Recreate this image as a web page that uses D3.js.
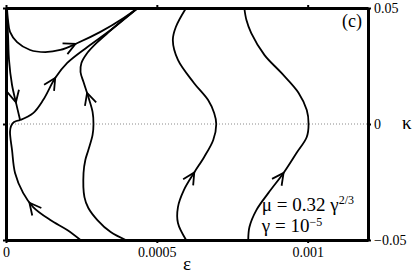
<!DOCTYPE html>
<html>
<head>
<meta charset="utf-8">
<script src="https://cdn.jsdelivr.net/npm/d3@7"></script>
</head>
<body style="margin:0; background:#fff">
<div id="chart"></div>
<script>
// tick values / labels
var xTicks = [0, 0.0005, 0.001],
    xTickLabels = ["0", "0.0005", "0.001"],
    yTicks = [-0.05, 0, 0.05],
    yTickLabels = ["\u22120.05", "0", "0.05"];

// trajectories, [epsilon, kappa], listed in the direction of the flow
var curveA = [[0.000803, -0.05], [0.000807, -0.0444], [0.000830, -0.0371], [0.000870, -0.0297],
    [0.000920, -0.0211], [0.000963, -0.0125], [0.000997, -0.0056], [0.001003, 0],
    [0.000997, 0.0060], [0.000970, 0.0134], [0.000913, 0.0220], [0.000857, 0.0297],
    [0.000813, 0.0392], [0.000797, 0.0448], [0.000790, 0.05]];
var curveB = [[0.000597, -0.05], [0.000570, -0.0427], [0.000570, -0.0358], [0.000590, -0.0284],
    [0.000623, -0.0211], [0.000657, -0.0142], [0.000687, -0.0069], [0.000697, 0],
    [0.000690, 0.0047], [0.000670, 0.0103], [0.000623, 0.0177], [0.000570, 0.0276],
    [0.000553, 0.0362], [0.000563, 0.0418], [0.000597, 0.05]];
var curveC = [[0.000397, -0.05], [0.000347, -0.0466], [0.000303, -0.0414], [0.000273, -0.0362],
    [0.000260, -0.0315], [0.000257, -0.0211], [0.000263, -0.0155], [0.000273, -0.0112],
    [0.000287, -0.0047], [0.000290, 0], [0.000287, 0.0052], [0.000273, 0.0116],
    [0.000257, 0.0181], [0.000247, 0.0224], [0.000250, 0.0263], [0.000267, 0.0302],
    [0.000297, 0.0345], [0.000337, 0.0392], [0.000383, 0.0444], [0.000437, 0.05]];
var curveD = [[0.0000467, 0.0017], [0.00009, 0.0047], [0.000123, 0.0103], [0.000163, 0.0198],
    [0.000203, 0.0263], [0.00027, 0.0332], [0.000347, 0.0405], [0.000437, 0.05]];
var curveE = [[0.000247, -0.05], [0.000203, -0.0457], [0.000147, -0.0414], [0.00009, -0.0358],
    [0.0000567, -0.0297], [0.00003, -0.0211], [0.00002, -0.0112], [0.0000133, -0.0034],
    [0.0000167, -0.0009], [0.0000267, 0.0009], [0.0000467, 0.0017]];
var curveF = [[0.0000017, 0.05], [0.0000067, 0.0384], [0.00001, 0.0276], [0.00002, 0.0168],
    [0.0000333, 0.0091], [0.0000467, 0.0017]];
var curveG = [[0.0000033, 0.05], [0.0000067, 0.0448], [0.0000133, 0.0397], [0.0000367, 0.0353],
    [0.00008, 0.0319], [0.00013, 0.031], [0.00018, 0.0319], [0.000237, 0.0349],
    [0.000313, 0.0397], [0.00039, 0.0457], [0.000437, 0.05]];

var curves = [curveA, curveB, curveC, curveD, curveE, curveF, curveG];

// arrow tips: which curve, and where on it
var arrowCurve = [0, 1, 2, 3, 4, 5, 6],
    arrowEps = [0.00092, 0.000623, 0.000272, 0.000163, 0.00008, 0.0000367, 0.00023],
    arrowKappa = [-0.0211, -0.0207, 0.0134, 0.0198, -0.0336, 0.0095, 0.0349];

var margin = { top: 8, right: 47, bottom: 37, left: 6 },
    width = 415 - margin.left - margin.right,
    height = 277 - margin.top - margin.bottom;

var serif = "'Liberation Serif'";

var svg = d3.select("#chart")
    .append("svg")
    .attr("width", 415)
    .attr("height", 277)
    .append("g")
    .attr("transform", "translate(" + margin.left + "," + margin.top + ")");

var x = d3.scaleLinear().domain([0, 0.0012]).range([0, width]);
var y = d3.scaleLinear().domain([-0.05, 0.05]).range([height, 0]);

// dotted kappa = 0 line
svg.append("line")
    .attr("x1", 0).attr("x2", width)
    .attr("y1", y(0)).attr("y2", y(0))
    .attr("stroke", "#8a8a8a")
    .attr("stroke-width", 1)
    .attr("stroke-dasharray", "1,2");

var line = d3.line()
    .x(function (d) { return x(d[0]); })
    .y(function (d) { return y(d[1]); })
    .curve(d3.curveCatmullRom.alpha(0.5));

var paths = svg.selectAll(".traj")
    .data(curves)
    .enter()
    .append("path")
    .attr("class", "traj")
    .attr("fill", "none")
    .attr("stroke", "#000")
    .attr("stroke-width", 1.8)
    .attr("stroke-linejoin", "round")
    .attr("d", line);

// open arrowheads along the trajectories
arrowCurve.forEach(function (ci, i) {
    var node = paths.nodes()[ci],
        total = node.getTotalLength(),
        tx = x(arrowEps[i]), ty = y(arrowKappa[i]),
        best = 0, bestD = Infinity;
    for (var l = 0; l <= total; l += 0.5) {
        var p = node.getPointAtLength(l),
            dd = (p.x - tx) * (p.x - tx) + (p.y - ty) * (p.y - ty);
        if (dd < bestD) { bestD = dd; best = l; }
    }
    var tip = node.getPointAtLength(best),
        back = node.getPointAtLength(Math.max(0, best - 3)),
        ang = Math.atan2(tip.y - back.y, tip.x - back.x),
        len = 13, spread = 0.47;
    var pts = [
        [tip.x - len * Math.cos(ang - spread), tip.y - len * Math.sin(ang - spread)],
        [tip.x, tip.y],
        [tip.x - len * Math.cos(ang + spread), tip.y - len * Math.sin(ang + spread)]
    ];
    svg.append("path")
        .attr("fill", "none")
        .attr("stroke", "#000")
        .attr("stroke-width", 1.8)
        .attr("stroke-linejoin", "miter")
        .attr("d", d3.line()(pts));
});

// axes
function styleAxis(g) {
    g.select(".domain").attr("stroke-width", 3);
    g.selectAll(".tick line").attr("stroke-width", 2);
    g.selectAll("text").attr("font-size", 14).style("font-family", serif);
}

svg.append("g")
    .attr("transform", "translate(0," + height + ")")
    .call(d3.axisBottom(x).tickValues(xTicks).tickSize(3).tickSizeOuter(0).tickPadding(4)
        .tickFormat(function (d, i) { return xTickLabels[i]; }))
    .call(styleAxis);

svg.append("g")
    .call(d3.axisTop(x).tickValues(xTicks).tickSize(3).tickSizeOuter(0).tickFormat(""))
    .call(styleAxis);

svg.append("g")
    .call(d3.axisLeft(y).tickValues(yTicks).tickSize(3).tickSizeOuter(0).tickFormat(""))
    .call(styleAxis);

svg.append("g")
    .attr("transform", "translate(" + width + ",0)")
    .call(d3.axisRight(y).tickValues(yTicks).tickSize(3).tickSizeOuter(0).tickPadding(3)
        .tickFormat(function (d, i) { return yTickLabels[yTicks.indexOf(d)]; }))
    .call(styleAxis);

// axis titles and annotations
svg.append("text")
    .attr("x", width / 2).attr("y", height + 30)
    .attr("text-anchor", "middle")
    .attr("font-size", 19)
    .style("font-family", serif)
    .text("\u03b5");

svg.append("text")
    .attr("x", width + 34).attr("y", y(0) + 5)
    .attr("font-size", 19)
    .style("font-family", serif)
    .text("\u03ba");

svg.append("text")
    .attr("x", width - 6).attr("y", 19)
    .attr("text-anchor", "end")
    .attr("font-size", 18)
    .style("font-family", serif)
    .text("(c)");

var t1 = svg.append("text")
    .attr("x", x(0.000848)).attr("y", height - 29)
    .attr("font-size", 19)
    .style("font-family", serif);
t1.append("tspan").text("\u03bc = 0.32 \u03b3");
t1.append("tspan").attr("font-size", 12).attr("dy", -7).text("2/3");

var t2 = svg.append("text")
    .attr("x", x(0.000848)).attr("y", height - 8)
    .attr("font-size", 19)
    .style("font-family", serif);
t2.append("tspan").text("\u03b3 = 10");
t2.append("tspan").attr("font-size", 12).attr("dy", -6).text("\u22125");
</script>
</body>
</html>
